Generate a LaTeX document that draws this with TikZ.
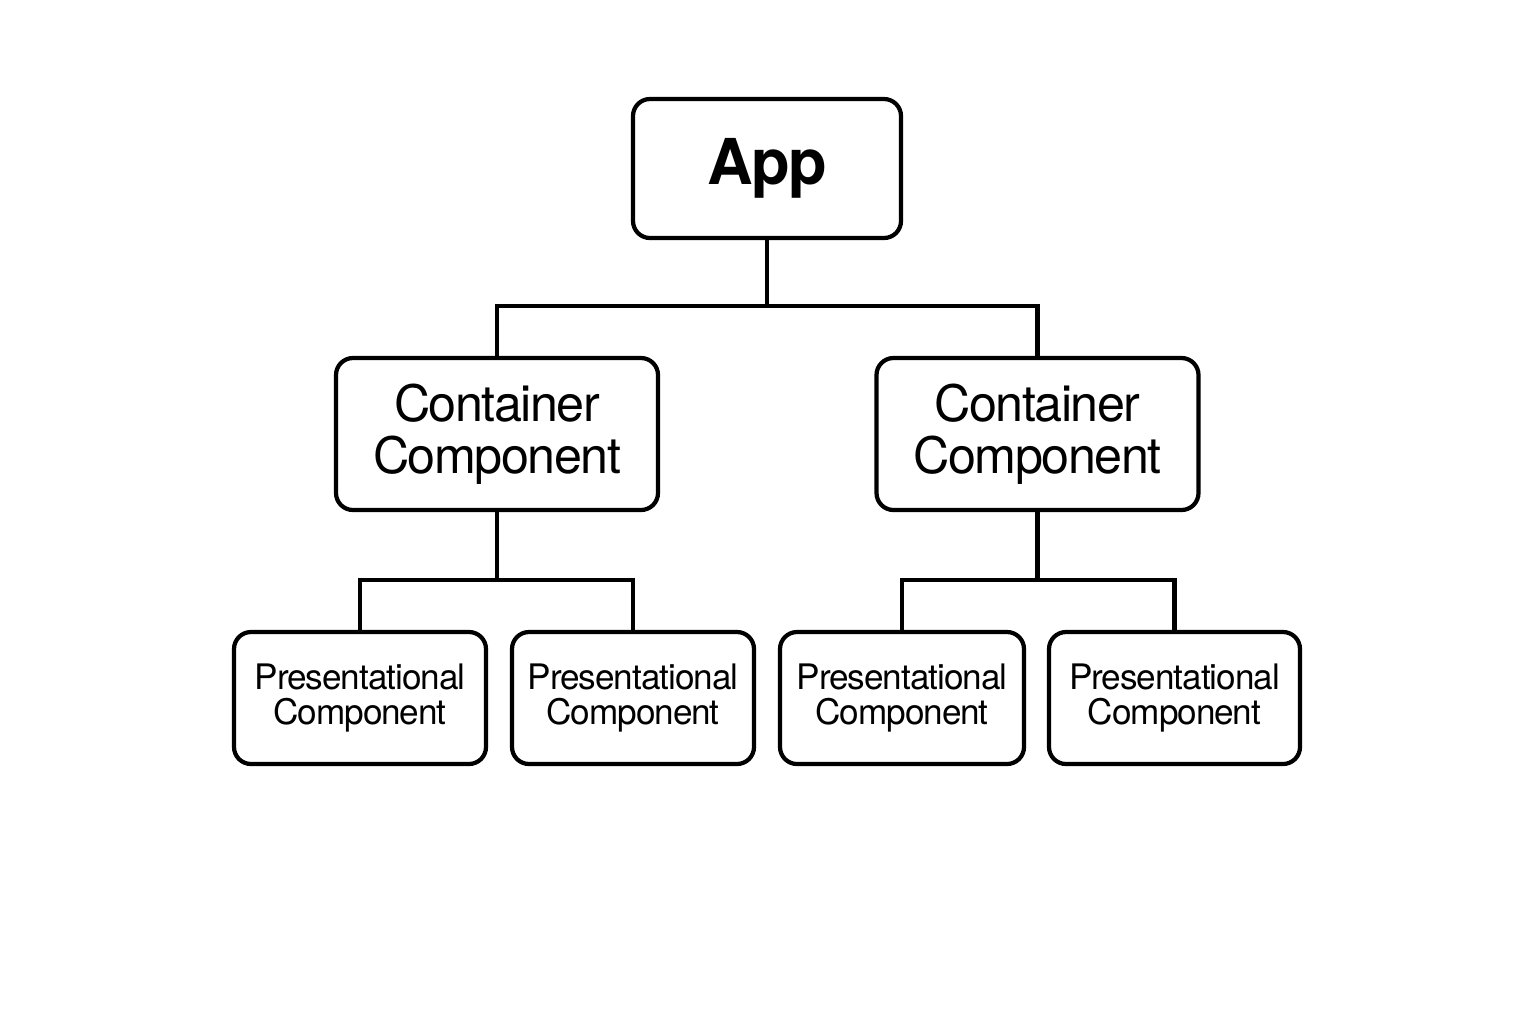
\documentclass[tikz,border=0pt]{standalone}
\usepackage{fontspec}
\setmainfont{TeX Gyre Heros}
\newfontfamily\tightsans[LetterSpace=-3]{TeX Gyre Heros}
\usetikzlibrary{positioning}

\tikzset{
  box/.style={draw, line width=1.2pt, rounded corners=0.17cm, align=center, inner sep=0pt},
  appbox/.style={box, minimum width=2.68cm, minimum height=1.39cm, font=\tightsans\fontsize{18}{20}\selectfont\bfseries},
  contbox/.style={box, minimum width=3.22cm, minimum height=1.52cm, font=\tightsans\fontsize{14.3}{14.8}\selectfont},
  presbox/.style={box, minimum height=1.32cm, font=\tightsans\fontsize{10}{10.2}\selectfont},
  link/.style={-, line width=1.2pt}
}

\begin{document}
\begin{tikzpicture}

\useasboundingbox (0,0) rectangle (15.36,-10.24);

% top
\node[appbox] (app) at (7.67,-1.685) {App};

% containers
\node[contbox] (contL) at (4.97,-4.34) {Container\\Component};
\node[contbox] (contR) at (10.375,-4.34) {Container\\Component};

% presentational
\node[presbox, minimum width=2.52cm] (presA) at (3.60,-6.98) {Presentational\\Component};
\node[presbox, minimum width=2.42cm] (presB) at (6.33,-6.98) {Presentational\\Component};
\node[presbox, minimum width=2.44cm] (presC) at (9.02,-6.98) {Presentational\\Component};
\node[presbox, minimum width=2.51cm] (presD) at (11.745,-6.98) {Presentational\\Component};

% links
\coordinate (jApp) at (7.67,-3.06);
\coordinate (jL) at (4.97,-5.80);
\coordinate (jR) at (10.375,-5.80);

\draw[link] (app.south) -- (jApp);
\draw[link] (contL.north) |- (jApp) -| (contR.north);
\draw[link] (contL.south) -- (jL);
\draw[link] (presA.north) |- (jL) -| (presB.north);
\draw[link] (contR.south) -- (jR);
\draw[link] (presC.north) |- (jR) -| (presD.north);

\end{tikzpicture}
\end{document}
